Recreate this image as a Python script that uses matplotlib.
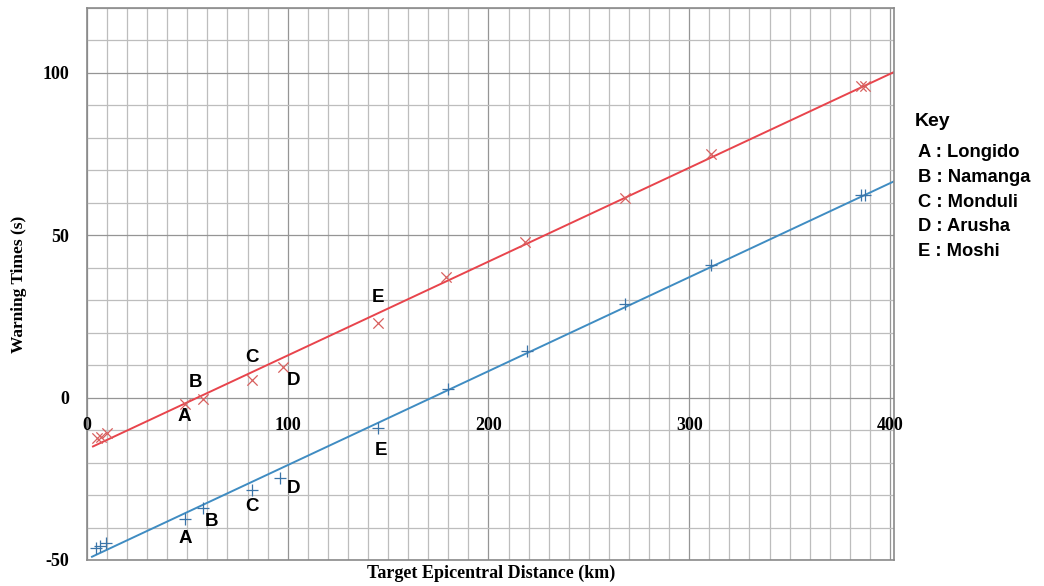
import numpy as np
import matplotlib
matplotlib.use('Agg')
import matplotlib.pyplot as plt

# Datos
dist_red = [5, 7, 10, 49, 58, 82, 97.5, 145, 179, 218, 268, 311, 385.5, 387.5]
warn_red = [-12.5, -12, -11, -2, -0.5, 5.5, 9.5, 23, 37.3, 48, 61.5, 75, 96, 96]

dist_blue = [4.5, 6.5, 9.5, 49, 58, 82, 96, 145, 179.6, 219, 268, 311, 385.5, 387.5]
warn_blue = [-46.3, -45.7, -44.8, -37.3, -34, -28.4, -24.7, -9.3, 2.8, 14.5, 28.7, 40.7, 62.3, 62.3]

# Etiquetas de estaciones (indices de los puntos A-E)
station_letters = ['A', 'B', 'C', 'D', 'E']
station_idx = [3, 4, 5, 6, 7]
key_names = ['Longido', 'Namanga', 'Monduli', 'Arusha', 'Moshi']

x_ticks = [0, 100, 200, 300, 400]
y_ticks = [-50, 0, 50, 100]

RED = '#e8444c'
BLUE = '#3f8cc2'

fig = plt.figure(figsize=(10.44, 5.86), dpi=100)
ax = fig.add_axes([0.0833, 0.0444, 0.773, 0.942])

# Grilla tipo papel milimetrado
for v in range(0, 401, 10):
    c = '#959595' if v % 100 == 0 else '#bdbdbd'
    ax.axvline(v, color=c, lw=0.9, zorder=0)
for v in range(-50, 121, 10):
    c = '#959595' if v % 50 == 0 else '#bdbdbd'
    ax.axhline(v, color=c, lw=0.9, zorder=0)

# Lineas de tendencia
for xs, ys, col in [(dist_red, warn_red, RED), (dist_blue, warn_blue, BLUE)]:
    m, b = np.polyfit(xs, ys, 1)
    xx = np.array([min(xs) - 2, 402])
    ax.plot(xx, m * xx + b, color=col, lw=1.4, zorder=2)

ax.scatter(dist_red, warn_red, marker='x', s=55, color='#d8605f', linewidths=0.9, zorder=3)
ax.scatter(dist_blue, warn_blue, marker='+', s=70, color='#3a74a8', linewidths=0.9, zorder=3)

# Letras de estaciones
red_off = [(-1, -9), (-6, 12), (0, 16), (8, -10), (0, 18)]
blue_off = [(0, -14), (6, -10), (0, -12), (10, -8), (2, -16)]
font_lbl = dict(family=['Liberation Sans', 'DejaVu Sans'], fontsize=13.5, fontweight='bold',
                ha='center', va='center')
for k, i in enumerate(station_idx):
    ax.annotate(station_letters[k], (dist_red[i], warn_red[i]), xytext=red_off[k],
                textcoords='offset points', **font_lbl)
    ax.annotate(station_letters[k], (dist_blue[i], warn_blue[i]), xytext=blue_off[k],
                textcoords='offset points', **font_lbl)

ax.set_xlim(0, 402)
ax.set_ylim(-50, 120)
ax.set_xticks([])
ax.set_yticks(y_ticks)
ax.set_yticklabels([str(t) for t in y_ticks], family='Liberation Serif',
                   fontweight='bold', fontsize=13)
ax.tick_params(axis='y', length=0, pad=13)

# Etiquetas del eje x dentro del grafico (debajo de y=0)
for t in x_ticks:
    ax.text(t, -8.5, str(t), family='Liberation Serif', fontweight='bold',
            fontsize=13, ha='center', va='center')

for s in ax.spines.values():
    s.set_color('#8a8a8a')
    s.set_linewidth(1.2)

fig.text(0.018, 0.515, 'Warning Times (s)', family='Liberation Serif', fontweight='bold',
         fontsize=12.5, rotation=90, ha='center', va='center')
fig.text(0.47, 0.022, 'Target Epicentral Distance (km)', family='Liberation Serif',
         fontweight='bold', fontsize=13, ha='center', va='center')

# Clave
fig.text(0.876, 0.792, 'Key', family='Liberation Sans', fontweight='bold',
         fontsize=14, ha='left', va='center')
for k in range(len(station_letters)):
    fig.text(0.879, 0.739 - k * 0.042, f'{station_letters[k]} : {key_names[k]}',
             family='Liberation Sans', fontweight='bold', fontsize=13.2,
             ha='left', va='center')

plt.savefig('out.png', dpi=100)
plt.close()
